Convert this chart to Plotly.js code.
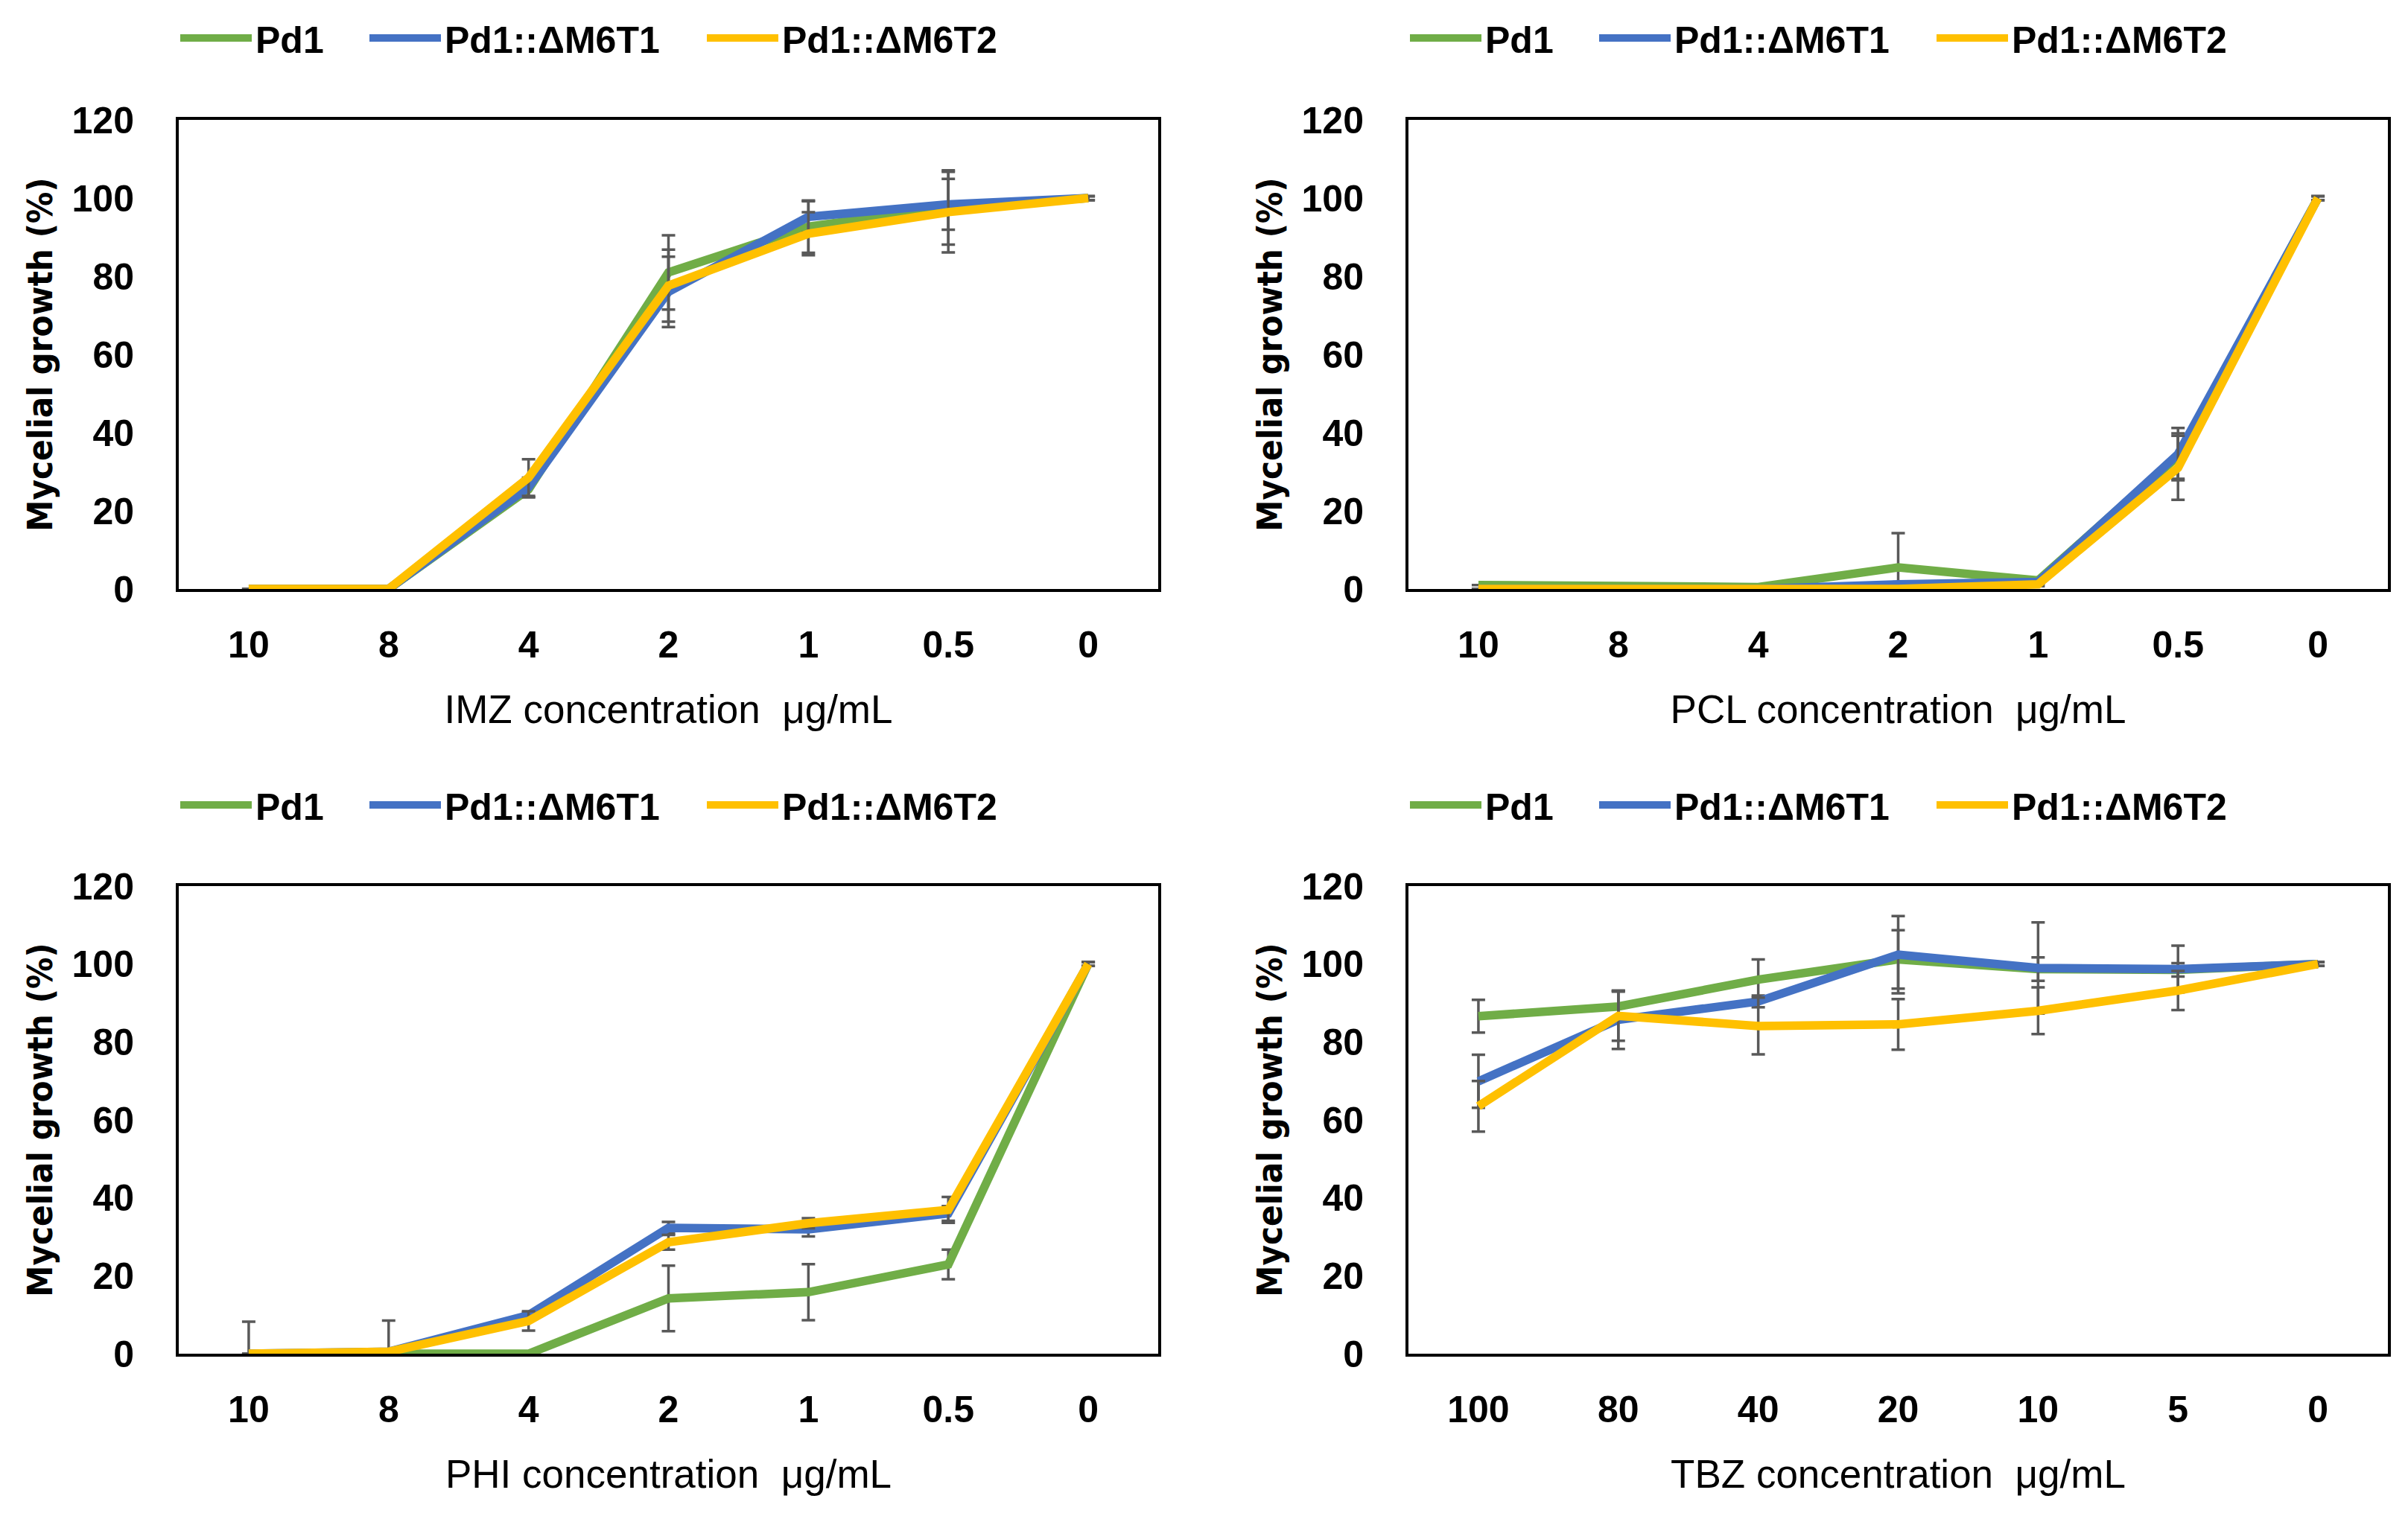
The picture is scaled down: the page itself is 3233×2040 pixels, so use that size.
<!DOCTYPE html>
<html>
<head>
<meta charset="utf-8">
<script src="https://cdn.plot.ly/plotly-3.0.1.min.js"></script>
<style>html,body{margin:0;padding:0;background:#fff;}</style>
</head>
<body>
<div id="chart" style="width:3233px;height:2040px;"></div>
<script>
// ---- data ----
const seriesNames = ['Pd1', 'Pd1::ΔM6T1', 'Pd1::ΔM6T2'];
const seriesColors = ['#70AD47', '#4472C4', '#FFC000'];

const concCats = ['10', '8', '4', '2', '1', '0.5', '0'];
const tbzCats = ['100', '80', '40', '20', '10', '5', '0'];

const imzPd1 = [0, 0, 25.5, 81.0, 92.7, 97.6, 100];
const imzPd1Err = [0, 0, 2.0, 9.5, 6.7, 9.5, 0.5];
const imzT1 = [0, 0, 26.0, 76.0, 95.2, 98.4, 100];
const imzT1Err = [0, 0, 2.5, 9.0, 4.0, 6.5, 0.5];
const imzT2 = [0, 0, 28.5, 77.6, 90.9, 96.4, 100];
const imzT2Err = [0, 0, 4.7, 9.2, 5.5, 10.3, 0.5];

const pclPd1 = [1.0, 0.5, 0.5, 5.5, 2.2, 34.0, 100];
const pclPd1Err = [0, 0, 0, 8.8, 0.5, 5.8, 0.5];
const pclT1 = [0, 0, 0, 1.2, 1.8, 34.5, 100];
const pclT1Err = [0, 0, 0, 0, 0.5, 6.7, 0.5];
const pclT2 = [0, 0, 0, 0, 1.2, 31.0, 100];
const pclT2Err = [0, 0, 0, 0, 0.5, 8.2, 0.5];

const phiPd1 = [0, 0, 0, 14.2, 15.8, 22.9, 100];
const phiPd1Err = [8.2, 8.5, 0, 8.4, 7.2, 3.8, 0.5];
const phiT1 = [0, 0.5, 9.9, 32.3, 31.9, 36.0, 100];
const phiT1Err = [0, 0, 0.7, 1.5, 1.8, 1.9, 0.5];
const phiT2 = [0, 0.5, 8.4, 28.6, 33.5, 36.9, 100];
const phiT2Err = [0, 0, 2.5, 1.9, 1.3, 3.3, 0.5];

const tbzPd1 = [86.6, 89.1, 96.0, 101.2, 98.7, 98.5, 100];
const tbzPd1Err = [4.2, 3.8, 5.2, 7.5, 3.0, 1.7, 0.5];
const tbzT1 = [69.9, 85.7, 90.4, 102.4, 99.0, 98.7, 100];
const tbzT1Err = [6.8, 7.5, 1.5, 9.9, 11.7, 6.0, 0.5];
const tbzT2 = [63.5, 86.7, 84.1, 84.5, 88.0, 93.2, 100];
const tbzT2Err = [6.5, 6.4, 7.3, 6.5, 6.0, 5.0, 0.5];

const xTitles = ['IMZ concentration  μg/mL', 'PCL concentration  μg/mL', 'PHI concentration  μg/mL', 'TBZ concentration  μg/mL'];
const yTitle = 'Mycelial growth (%)';

// ---- build ----
const panels = [
  {cats: concCats, ys: [imzPd1, imzT1, imzT2], errs: [imzPd1Err, imzT1Err, imzT2Err]},
  {cats: concCats, ys: [pclPd1, pclT1, pclT2], errs: [pclPd1Err, pclT1Err, pclT2Err]},
  {cats: concCats, ys: [phiPd1, phiT1, phiT2], errs: [phiPd1Err, phiT1Err, phiT2Err]},
  {cats: tbzCats, ys: [tbzPd1, tbzT1, tbzT2], errs: [tbzPd1Err, tbzT1Err, tbzT2Err]}
];

const W = 3233, H = 2040;
const boxLeft = [240, 1891, 240, 1891];
const boxRight = [1555, 3206, 1555, 3206];
const boxTop = [161, 161, 1190, 1190];
const boxBottom = [791, 791, 1818, 1818];
const legendCenterY = [51, 51, 1081, 1081];
const legendItemOffset = [-3, 251, 704];

const FONT = 'Liberation Sans, Arial, sans-serif';
const YTITLE_FONT = 'DejaVu Sans Condensed, Liberation Sans, Arial, sans-serif';
const traces = [];
const layout = {
  width: W, height: H,
  margin: {l: 0, r: 0, t: 0, b: 0},
  paper_bgcolor: '#ffffff',
  plot_bgcolor: '#ffffff',
  showlegend: true,
  font: {family: FONT, color: '#000000'}
};

let legendCount = 0;
panels.forEach((p, i) => {
  const n = i === 0 ? '' : String(i + 1);
  p.ys.forEach((y, s) => {
    legendCount += 1;
    const legendId = legendCount === 1 ? 'legend' : 'legend' + legendCount;
    traces.push({
      type: 'scatter', mode: 'lines',
      x: p.cats, y: y,
      name: seriesNames[s],
      xaxis: 'x' + n, yaxis: 'y' + n,
      legend: legendId,
      line: {color: seriesColors[s], width: 11.5},
      error_y: {type: 'data', array: p.errs[s], visible: true, color: '#595959', thickness: 3.5, width: 9}
    });
    layout[legendId] = {
      x: (boxLeft[i] + legendItemOffset[s]) / W,
      y: 1 - legendCenterY[i] / H,
      xanchor: 'left', yanchor: 'middle',
      orientation: 'h',
      bgcolor: 'rgba(0,0,0,0)', borderwidth: 0,
      itemwidth: 96,
      font: {family: FONT, size: 50, weight: 'bold', color: '#000000'}
    };
  });
  layout['xaxis' + n] = {
    domain: [boxLeft[i] / W, boxRight[i] / W], anchor: 'y' + n,
    type: 'category', categoryorder: 'array', categoryarray: p.cats,
    range: [-0.5, 6.5],
    showline: true, mirror: true, linecolor: '#000000', linewidth: 4,
    ticks: '', showgrid: false, zeroline: false,
    tickfont: {family: FONT, size: 50, weight: 'bold', color: '#000000'},
    ticklabelstandoff: 28,
    title: {text: xTitles[i], font: {family: FONT, size: 53, color: '#000000'}, standoff: 42},
    automargin: false
  };
  layout['yaxis' + n] = {
    domain: [1 - boxBottom[i] / H, 1 - boxTop[i] / H], anchor: 'x' + n,
    range: [0, 120], dtick: 20, tick0: 0,
    showline: true, mirror: true, linecolor: '#000000', linewidth: 4,
    ticks: '', showgrid: false, zeroline: false,
    tickfont: {family: FONT, size: 50, weight: 'bold', color: '#000000'},
    ticklabelstandoff: 46,
    title: {text: yTitle, font: {family: YTITLE_FONT, size: 47, weight: 'bold', color: '#000000'}, standoff: 12},
    automargin: false
  };
});

Plotly.newPlot('chart', traces, layout, {staticPlot: true, displayModeBar: false});
</script>
</body>
</html>
